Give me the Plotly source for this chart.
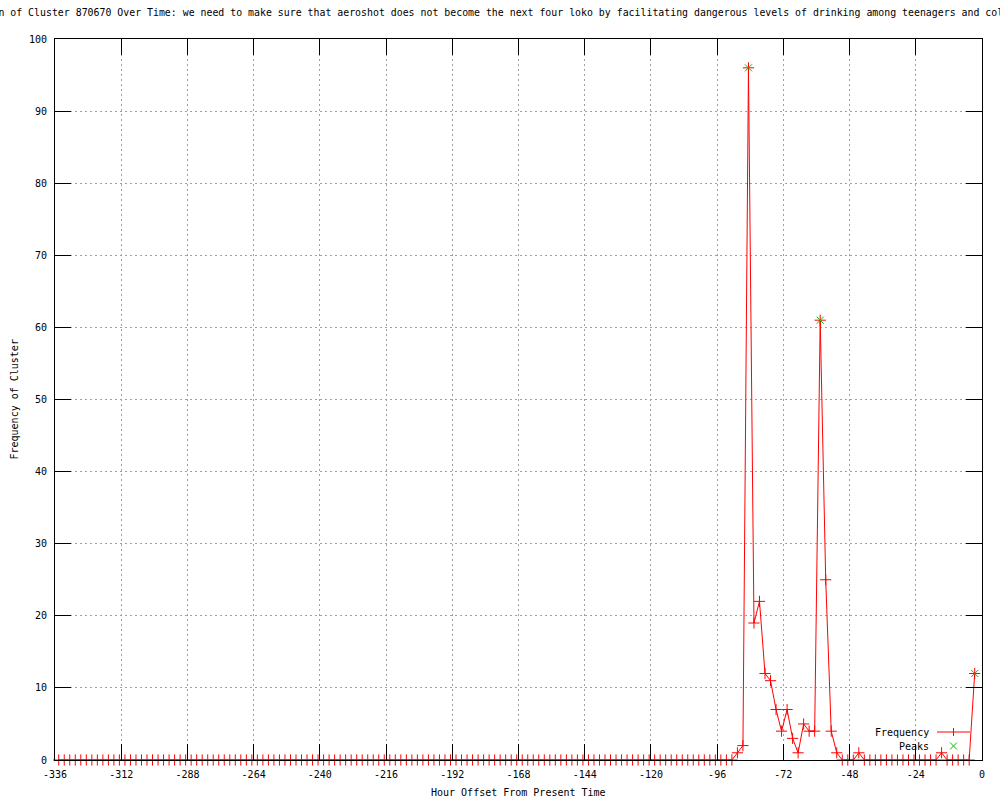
import plotly.graph_objects as go

# ---------------- data ----------------
# Frequency of the cluster in 2-hour bins, oldest first
first_hour = -334.65
step_hours = 2
frequency = [
    0, 0, 0, 0, 0, 0, 0, 0, 0, 0, 0, 0, 0, 0, 0, 0, 0, 0, 0, 0,
    0, 0, 0, 0, 0, 0, 0, 0, 0, 0, 0, 0, 0, 0, 0, 0, 0, 0, 0, 0,
    0, 0, 0, 0, 0, 0, 0, 0, 0, 0, 0, 0, 0, 0, 0, 0, 0, 0, 0, 0,
    0, 0, 0, 0, 0, 0, 0, 0, 0, 0, 0, 0, 0, 0, 0, 0, 0, 0, 0, 0,
    0, 0, 0, 0, 0, 0, 0, 0, 0, 0, 0, 0, 0, 0, 0, 0, 0, 0, 0, 0,
    0, 0, 0, 0, 0, 0, 0, 0, 0, 0, 0, 0, 0, 0, 0, 0, 0, 0, 0, 0,
    0, 0, 0,
    1, 2, 96, 19, 22, 12, 11, 7, 4, 7, 3, 1, 5, 4, 4, 61, 25, 4, 1,
    0, 0, 0, 1,
    0, 0, 0, 0, 0, 0, 0, 0, 0, 0, 0, 0, 0, 0,
    1,
    0, 0, 0, 0, 0,
    12,
]
hours = [round(first_hour + step_hours * i, 2) for i in range(len(frequency))]

peak_hours = [-84.65, -58.65, -2.65]
peak_values = [96, 61, 12]

x_tick_vals = [-336, -312, -288, -264, -240, -216, -192, -168, -144, -120, -96, -72, -48, -24, 0]
x_tick_labels = ["-336", "-312", "-288", "-264", "-240", "-216", "-192", "-168", "-144",
                 "-120", "-96", "-72", "-48", "-24", "0"]
y_tick_vals = [0, 10, 20, 30, 40, 50, 60, 70, 80, 90, 100]

title_text = ("Distribution of Cluster 870670 Over Time: we need to make sure that aeroshot does not "
              "become the next four loko by facilitating dangerous levels of drinking among "
              "teenagers and college students")
x_title = "Hour Offset From Present Time"
y_title = "Frequency of Cluster"
series_names = ["Frequency", "Peaks"]

# ---------------- style ----------------
FONT = "DejaVu Sans Mono"
RED = "#ff0000"
GREEN = "#00c000"
W, H = 1000, 800
L, R, T, B = 55, 18, 39, 40
PW, PH = W - L - R, H - T - B


def px_x(p):
    return (p - L) / PW


def px_y(p):
    return (H - B - p) / PH


fig = go.Figure()
fig.add_trace(go.Scatter(
    x=hours, y=frequency, mode="lines+markers", name=series_names[0],
    line=dict(color=RED, width=1),
    marker=dict(symbol="cross-thin", size=8, line=dict(color=RED, width=1), color=RED),
    cliponaxis=False, showlegend=False,
))
fig.add_trace(go.Scatter(
    x=peak_hours, y=peak_values, mode="markers", name=series_names[1],
    marker=dict(symbol="x-thin", size=7, line=dict(color=GREEN, width=1), color=GREEN),
    cliponaxis=False, showlegend=False,
))

axis_common = dict(
    showline=True, linecolor="black", linewidth=1, mirror="ticks",
    ticks="inside", ticklen=16, tickwidth=1, tickcolor="black",
    showgrid=True, gridcolor="#a0a0a0", gridwidth=1, griddash="2px,3px",
    zeroline=False, tickfont=dict(family=FONT, size=10, color="black"),
)
fig.update_xaxes(range=[-336, 0], tickmode="array", tickvals=x_tick_vals,
                 ticktext=x_tick_labels, ticklabelstandoff=5, **axis_common)
fig.update_yaxes(range=[0, 100], tickmode="array", tickvals=y_tick_vals,
                 ticklabelstandoff=5, **axis_common)

annotations = [
    dict(text=title_text, xref="paper", yref="paper", x=px_x(-69), y=px_y(12),
         xanchor="left", yanchor="middle", showarrow=False,
         font=dict(family=FONT, size=9.9, color="black")),
    dict(text=x_title, xref="paper", yref="paper", x=0.5, y=px_y(792),
         xanchor="center", yanchor="middle", showarrow=False,
         font=dict(family=FONT, size=10, color="black")),
    dict(text=y_title, xref="paper", yref="paper", x=px_x(14), y=0.5, textangle=-90,
         xanchor="center", yanchor="middle", showarrow=False,
         font=dict(family=FONT, size=10, color="black")),
    dict(text=series_names[0], xref="paper", yref="paper", x=px_x(931), y=px_y(732),
         xanchor="right", yanchor="middle", showarrow=False,
         font=dict(family=FONT, size=10, color="black")),
    dict(text=series_names[1], xref="paper", yref="paper", x=px_x(931), y=px_y(746),
         xanchor="right", yanchor="middle", showarrow=False,
         font=dict(family=FONT, size=10, color="black")),
]

shapes = [
    # legend key: Frequency line + cross
    dict(type="line", xref="paper", yref="paper", x0=px_x(937), x1=px_x(970),
         y0=px_y(732), y1=px_y(732), line=dict(color=RED, width=1)),
    dict(type="line", xref="paper", yref="paper", xsizemode="pixel", ysizemode="pixel",
         xanchor=px_x(953.5), yanchor=px_y(732), x0=0, x1=0, y0=-4, y1=4,
         line=dict(color=RED, width=1)),
    # legend key: Peaks x
    dict(type="line", xref="paper", yref="paper", xsizemode="pixel", ysizemode="pixel",
         xanchor=px_x(953.5), yanchor=px_y(746), x0=-3.5, x1=3.5, y0=-3.5, y1=3.5,
         line=dict(color=GREEN, width=1)),
    dict(type="line", xref="paper", yref="paper", xsizemode="pixel", ysizemode="pixel",
         xanchor=px_x(953.5), yanchor=px_y(746), x0=-3.5, x1=3.5, y0=3.5, y1=-3.5,
         line=dict(color=GREEN, width=1)),
]

fig.update_layout(
    width=W, height=H, margin=dict(l=L, r=R, t=T, b=B, autoexpand=False),
    paper_bgcolor="white", plot_bgcolor="white", showlegend=False,
    font=dict(family=FONT, size=10, color="black"),
    annotations=annotations, shapes=shapes,
)

fig.write_html(
    "out.html",
    config={"displayModeBar": False},
    post_script="document.body.style.margin='0';document.body.style.padding='0';",
)
